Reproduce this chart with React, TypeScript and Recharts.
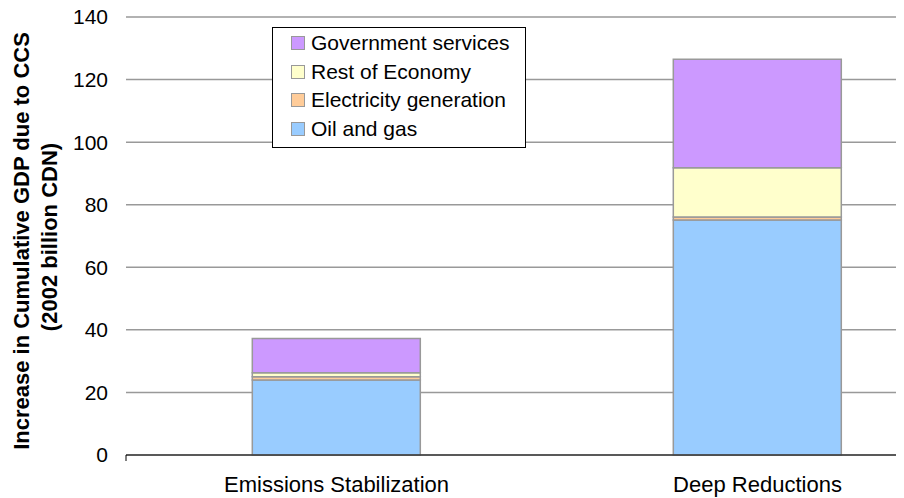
import React from "react";
import {
  BarChart,
  Bar,
  XAxis,
  YAxis,
  CartesianGrid,
  Legend,
  Label,
} from "recharts";

const scenarios = ["Emissions Stabilization", "Deep Reductions"];
const oilAndGas = [24.0, 75.1];
const electricity = [1.0, 1.0];
const restOfEconomy = [1.3, 15.7];
const government = [10.9, 34.7];
const yTicks = [0, 20, 40, 60, 80, 100, 120, 140];
// category boundaries, where the small tick marks sit on the x axis
const boundaryTicks = [0, 1, 2];

const series = [
  { key: "oil", name: "Oil and gas", color: "#99CCFF" },
  { key: "elec", name: "Electricity generation", color: "#FFCC99" },
  { key: "rest", name: "Rest of Economy", color: "#FFFFCC" },
  { key: "gov", name: "Government services", color: "#CC99FF" },
];

const rows = scenarios.map((name, i) => ({
  name,
  oil: oilAndGas[i],
  elec: electricity[i],
  rest: restOfEconomy[i],
  gov: government[i],
}));

const FONT = "'Liberation Sans', Arial, sans-serif";

const LegendBox = () => (
  <div
    style={{
      border: "1px solid #000",
      background: "#fff",
      width: 254,
      height: 121,
      boxSizing: "border-box",
      padding: "1px 0 0 18px",
      fontFamily: FONT,
      fontSize: 21,
      color: "#000",
    }}
  >
    {[...series].reverse().map((s) => (
      <div
        key={s.key}
        style={{ display: "flex", alignItems: "center", height: 28.5 }}
      >
        <span
          style={{
            display: "inline-block",
            width: 12,
            height: 12,
            background: s.color,
            border: "1px solid #999",
            marginRight: 6,
          }}
        />
        <span>{s.name}</span>
      </div>
    ))}
  </div>
);

const AxisTitle = () => (
  <g fontFamily={FONT} fontSize={22} fontWeight="bold" fill="#000">
    <text transform="translate(29, 241) rotate(-90)" textAnchor="middle">
      Increase in Cumulative GDP due to CCS
    </text>
    <text transform="translate(57, 237) rotate(-90)" textAnchor="middle">
      (2002 billion CDN)
    </text>
  </g>
);

export default function App() {
  return (
    <div
      style={{
        position: "relative",
        margin: "-8px 0 0 -8px",
        width: 904,
        height: 498,
        overflow: "hidden",
        background: "#fff",
      }}
    >
      <BarChart
        width={1000}
        height={498}
        data={rows}
        margin={{ top: 17, right: 32, left: 0, bottom: 0 }}
        barCategoryGap="30%"
      >
        <CartesianGrid vertical={false} stroke="#999" strokeWidth={1.5} />
        <XAxis
          xAxisId="b"
          dataKey="name"
          axisLine={false}
          tickLine={false}
          tickSize={0}
          tickMargin={20}
          height={42}
          tick={{ fontSize: 22, fill: "#000", fontFamily: FONT }}
        />
        {/* baseline with boundary tick marks */}
        <XAxis
          xAxisId="a"
          type="number"
          domain={[0, 2]}
          allowDataOverflow
          ticks={boundaryTicks}
          tickFormatter={() => ""}
          axisLine={{ stroke: "#000" }}
          tickLine={{ stroke: "#000" }}
          tickSize={6}
          height={1}
        />
        <YAxis
          domain={[0, 140]}
          ticks={yTicks}
          width={126}
          axisLine={false}
          tickLine={false}
          tickSize={0}
          tickMargin={18}
          tick={{ fontSize: 21, fill: "#000", fontFamily: FONT }}
        >
          <Label content={() => <AxisTitle />} />
        </YAxis>
        <Legend
          layout="vertical"
          align="center"
          verticalAlign="middle"
          content={() => <LegendBox />}
          wrapperStyle={{ position: "absolute", left: 272, top: 27, width: "auto" }}
        />
        {series.map((s) => (
          <Bar
            key={s.key}
            xAxisId="b"
            dataKey={s.key}
            name={s.name}
            stackId="a"
            fill={s.color}
            stroke="#999"
            strokeWidth={1.5}
            isAnimationActive={false}
          />
        ))}
      </BarChart>
    </div>
  );
}
